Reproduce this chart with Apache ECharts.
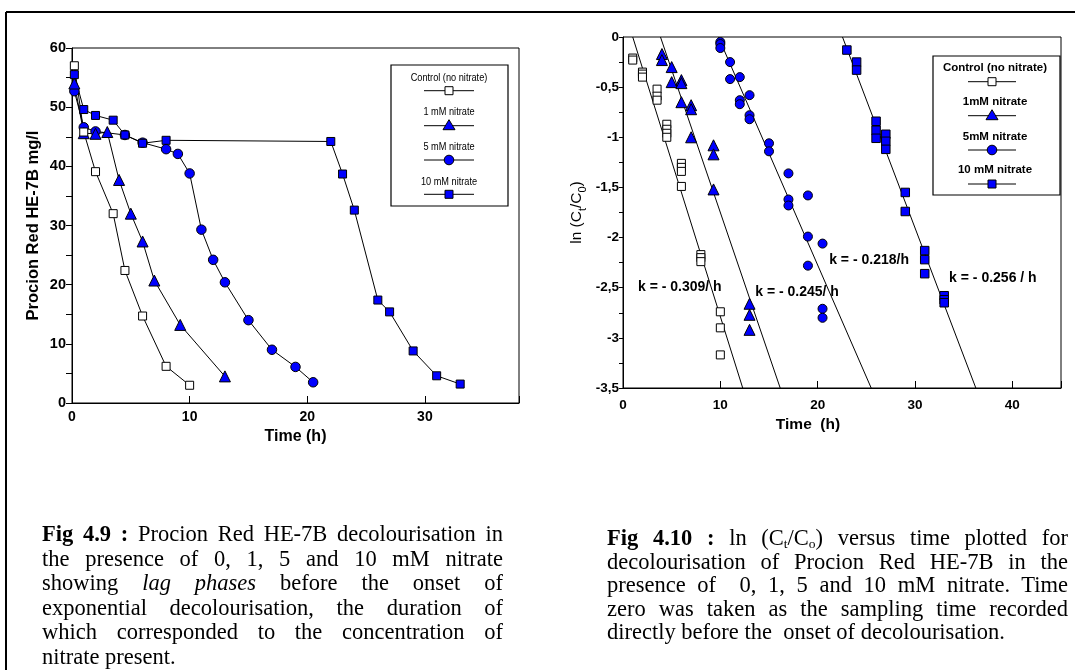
<!DOCTYPE html>
<html><head><meta charset="utf-8">
<script src="https://cdn.jsdelivr.net/npm/echarts@6/dist/echarts.min.js"></script>
<style>
html,body{margin:0;padding:0;background:#fff;}
#wrap{position:relative;width:1075px;height:670px;overflow:hidden;background:#fff;}
#chart{position:absolute;left:0;top:0;width:1075px;height:670px;}
.cap{position:absolute;width:461px;font-family:'Liberation Serif','Times New Roman',serif;font-size:22.5px;color:#000;}
.cap div{text-align:justify;text-align-last:justify;white-space:nowrap;}
.cap div.last{text-align-last:left;}
.cap b{font-weight:bold;}
.cap sub{font-size:60%;vertical-align:-0.25em;line-height:0;}
</style></head>
<body><div id="wrap"><div id="chart"></div>
<div class="cap" id="capL" style="left:42px;top:522px;line-height:24.5px;">
<div><b>Fig 4.9 :</b> Procion Red HE-7B decolourisation in</div>
<div>the presence of 0, 1, 5 and 10 mM nitrate</div>
<div>showing <i>lag phases</i> before the onset of</div>
<div>exponential decolourisation, the duration of</div>
<div>which corresponded to the concentration of</div>
<div class="last">nitrate present.</div>
</div>
<div class="cap" id="capR" style="left:607px;top:526px;line-height:23.5px;">
<div><b>Fig 4.10 :</b> ln (C<sub>t</sub>/C<sub>o</sub>) versus time plotted for</div>
<div>decolourisation of Procion Red HE-7B in the</div>
<div>presence of&nbsp; 0, 1, 5 and 10 mM nitrate. Time</div>
<div>zero was taken as the sampling time recorded</div>
<div class="last">directly before the&nbsp; onset of decolourisation.</div>
</div>
</div>
<script>
// ---------- Fig 4.9 data (concentration, mg/l vs time, h) ----------
const timeCtrl = [0.2, 1, 2, 3.5, 4.5, 6, 8, 10];
const concCtrl = [57.0, 45.8, 39.1, 32.0, 22.4, 14.7, 6.2, 3.0];
const time1 = [0.2, 1, 2, 3, 4, 5, 6, 7, 9.2, 13];
const conc1 = [54.0, 45.6, 45.5, 45.8, 37.7, 32.0, 27.3, 20.7, 13.2, 4.5];
const time5 = [0.2, 1, 2, 4.5, 6, 8, 9, 10, 11, 12, 13, 15, 17, 19, 20.5];
const conc5 = [52.7, 46.6, 45.9, 45.3, 44.0, 42.9, 42.1, 38.8, 29.3, 24.2, 20.4, 14.0, 9.0, 6.1, 3.5];
const time10 = [0.2, 1, 2, 3.5, 4.5, 6, 8, 22, 23, 24, 26, 27, 29, 31, 33];
const conc10 = [55.5, 49.6, 48.6, 47.8, 45.3, 43.9, 44.4, 44.2, 38.7, 32.6, 17.4, 15.4, 8.8, 4.6, 3.2];

// ---------- Fig 4.10 data (ln(Ct/C0) vs time, h) ----------
const lnTimeCtrl = [1, 1, 2, 2, 2, 3.5, 3.5, 3.5, 4.5, 4.5, 4.5, 4.5, 6, 6, 6, 6, 8, 8, 8, 10, 10, 10];
const lnCtrl = [-0.21, -0.23, -0.35, -0.37, -0.40, -0.52, -0.59, -0.63, -0.87, -0.92, -0.96, -1.0, -1.26, -1.30, -1.34, -1.49, -2.17, -2.20, -2.24, -2.74, -2.90, -3.17];
const lnTime1 = [4, 4, 5, 5, 6, 6, 6, 7, 7, 7, 9.3, 9.3, 9.3, 13, 13, 13];
const ln1 = [-0.17, -0.23, -0.30, -0.45, -0.43, -0.46, -0.65, -0.68, -0.72, -1.0, -1.08, -1.17, -1.52, -2.66, -2.77, -2.92];
const lnTime5 = [10, 10, 10, 11, 11, 12, 12, 12, 13, 13, 13, 15, 15, 17, 17, 17, 19, 19, 19, 20.5, 20.5, 20.5];
const ln5 = [-0.05, -0.07, -0.11, -0.25, -0.42, -0.40, -0.63, -0.67, -0.58, -0.78, -0.82, -1.06, -1.14, -1.36, -1.62, -1.68, -1.58, -1.99, -2.28, -2.06, -2.71, -2.80];
const lnTime10 = [23, 24, 24, 26, 26, 26, 27, 27, 27, 29, 29, 31, 31, 31, 33, 33, 33];
const ln10 = [-0.13, -0.25, -0.33, -0.84, -0.93, -1.01, -0.97, -1.04, -1.12, -1.55, -1.74, -2.13, -2.22, -2.36, -2.58, -2.62, -2.65];

// fitted regression lines: start/end time and ln value
const fitCtrlX = [1.0, 12.3];   const fitCtrlY = [0, -3.5];
const fit1X = [3.85, 16.15];    const fit1Y = [0, -3.5];
const fit5X = [9.8, 25.5];      const fit5Y = [0, -3.5];
const fit10X = [22.55, 36.25];  const fit10Y = [0, -3.5];

// rate constant annotations
const annotText = ['k = - 0.309/ h', 'k = - 0.245/ h', 'k = - 0.218/h', 'k = - 0.256 / h'];
const annotX = [1.44, 13.48, 21.08, 33.4];
const annotY = [-2.49, -2.54, -2.23, -2.40];

const seriesNames = ['Control (no nitrate)', '1 mM nitrate', '5 mM nitrate', '10 mM nitrate'];
const seriesNamesR = ['Control (no nitrate)', '1mM nitrate', '5mM nitrate', '10 mM nitrate'];

const zip = (xs, ys) => xs.map((x, i) => [x, ys[i]]);
const BLUE = '#0000ff';
const SANS = "'Liberation Sans', Arial, Helvetica, sans-serif";

const symStyle = (fill) => ({ color: fill, borderColor: '#000', borderWidth: 1, opacity: 1 });

function lineSeries(name, data, symbol, size, fill) {
  return {
    type: 'line', name, xAxisIndex: 0, yAxisIndex: 0, data,
    symbol, symbolSize: size, showAllSymbol: true,
    lineStyle: { color: '#000', width: 1 },
    itemStyle: symStyle(fill), animation: false, z: 3
  };
}
function scatterSeries(name, data, symbol, size, fill) {
  return {
    type: 'scatter', name, xAxisIndex: 1, yAxisIndex: 1, data,
    symbol, symbolSize: size, itemStyle: symStyle(fill), animation: false, z: 3
  };
}
function fitSeries(xs, ys) {
  return {
    type: 'line', xAxisIndex: 1, yAxisIndex: 1, data: zip(xs, ys), symbol: 'none',
    lineStyle: { color: '#000', width: 1 }, silent: true, animation: false, z: 2
  };
}

// legend graphics builder
function legendGraphics(box, cx, textYs, lineYs, names, font, sx, lx1, lx2) {
  const els = [{
    type: 'rect', shape: box, style: { fill: '#fff', stroke: '#000', lineWidth: 1.2 }, z: 10
  }];
  const kinds = ['rectOpen', 'tri', 'circle', 'rect'];
  names.forEach((n, i) => {
    els.push({ type: 'text', x: cx, y: textYs[i], scaleX: sx, z: 11,
      style: { text: n, font, fill: '#000', align: 'center', verticalAlign: 'middle', textAlign: 'center', textVerticalAlign: 'middle' } });
    els.push({ type: 'line', z: 11, shape: { x1: lx1, y1: lineYs[i], x2: lx2, y2: lineYs[i] }, style: { stroke: '#000', lineWidth: 1 } });
    const mx = (lx1 + lx2) / 2, my = lineYs[i];
    const k = kinds[i];
    if (k === 'rectOpen' || k === 'rect') {
      els.push({ type: 'rect', z: 12, shape: { x: mx - 4, y: my - 4, width: 8, height: 8 },
        style: { fill: k === 'rect' ? BLUE : '#fff', stroke: '#000', lineWidth: 1 } });
    } else if (k === 'tri') {
      els.push({ type: 'polygon', z: 12, shape: { points: [[mx, my - 6], [mx + 6, my + 4], [mx - 6, my + 4]] },
        style: { fill: BLUE, stroke: '#000', lineWidth: 1 } });
    } else {
      els.push({ type: 'circle', z: 12, shape: { cx: mx, cy: my, r: 4.8 },
        style: { fill: BLUE, stroke: '#000', lineWidth: 1 } });
    }
  });
  return els;
}

const chart = echarts.init(document.getElementById('chart'), null, { renderer: 'canvas' });

const option = {
  animation: false,
  backgroundColor: '#fff',
  grid: [
    { left: 72, top: 48, width: 447, height: 355, show: true, borderColor: '#000', borderWidth: 1, backgroundColor: 'transparent' },
    { left: 623, top: 37, width: 438, height: 351, show: true, borderColor: '#000', borderWidth: 1, backgroundColor: 'transparent' }
  ],
  xAxis: [
    {
      type: 'value', gridIndex: 0, min: 0, max: 38, interval: 10,
      name: 'Time (h)', nameLocation: 'middle', nameGap: 25,
      nameTextStyle: { fontFamily: SANS, fontWeight: 'bold', fontSize: 16, color: '#000' },
      axisLine: { show: true, onZero: false, lineStyle: { color: '#000', width: 1 } },
      axisTick: { show: true, inside: true, length: 7, lineStyle: { color: '#000' } },
      axisLabel: { color: '#000', fontFamily: SANS, fontWeight: 'bold', fontSize: 14, margin: 7,
        formatter: v => (v % 10 === 0 ? String(v) : '') },
      splitLine: { show: false }
    },
    {
      type: 'value', gridIndex: 1, min: 0, max: 45, interval: 10,
      name: 'Time  (h)', nameLocation: 'middle', nameGap: 27,
      nameTextStyle: { fontFamily: SANS, fontWeight: 'bold', fontSize: 15.5, color: '#000', padding: [0, 68, 0, 0] },
      axisLine: { show: true, onZero: false, lineStyle: { color: '#000', width: 1 } },
      axisTick: { show: true, inside: true, length: 7, lineStyle: { color: '#000' } },
      axisLabel: { color: '#000', fontFamily: SANS, fontWeight: 'bold', fontSize: 13.5, margin: 10,
        formatter: v => (v % 10 === 0 ? String(v) : '') },
      splitLine: { show: false }
    }
  ],
  yAxis: [
    {
      type: 'value', gridIndex: 0, min: 0, max: 60, interval: 10,
      name: 'Procion Red HE-7B mg/l', nameLocation: 'middle', nameGap: 30, nameRotate: 90,
      nameTextStyle: { fontFamily: SANS, fontWeight: 'bold', fontSize: 16.5, color: '#000' },
      axisLine: { show: true, onZero: false, lineStyle: { color: '#000', width: 1 } },
      axisTick: { show: true, inside: false, length: 6, lineStyle: { color: '#000' } },
      minorTick: { show: true, splitNumber: 2, length: 6, lineStyle: { color: '#000' } },
      axisLabel: { color: '#000', fontFamily: SANS, fontWeight: 'bold', fontSize: 14.5, margin: 6 },
      splitLine: { show: false }
    },
    {
      type: 'value', gridIndex: 1, min: -3.5, max: 0, interval: 0.5,
      name: '{a|ln (C}{s|t}{a|/C}{s|0}{a|)}', nameLocation: 'middle', nameGap: 35, nameRotate: 90,
      nameTextStyle: {
        color: '#000',
        rich: {
          a: { fontFamily: SANS, fontSize: 15.5, color: '#000', lineHeight: 22, verticalAlign: 'middle' },
          s: { fontFamily: SANS, fontSize: 11, color: '#000', lineHeight: 11, verticalAlign: 'bottom' }
        }
      },
      axisLine: { show: true, onZero: false, lineStyle: { color: '#000', width: 1 } },
      axisTick: { show: true, inside: false, length: 4, lineStyle: { color: '#000' } },
      minorTick: { show: true, splitNumber: 2, length: 4, lineStyle: { color: '#000' } },
      axisLabel: { color: '#000', fontFamily: SANS, fontWeight: 'bold', fontSize: 13.5, margin: 4,
        formatter: v => (v === 0 ? '0' : String(v).replace('.', ',')) },
      splitLine: { show: false }
    }
  ],
  series: [
    lineSeries(seriesNames[2], zip(time5, conc5), 'circle', 9.5, BLUE),
    lineSeries(seriesNames[1], zip(time1, conc1), 'triangle', 11, BLUE),
    lineSeries(seriesNames[3], zip(time10, conc10), 'rect', 8, BLUE),
    lineSeries(seriesNames[0], zip(timeCtrl, concCtrl), 'rect', 8, '#fff'),

    fitSeries(fitCtrlX, fitCtrlY),
    fitSeries(fit1X, fit1Y),
    fitSeries(fit5X, fit5Y),
    fitSeries(fit10X, fit10Y),
    scatterSeries(seriesNamesR[0], zip(lnTimeCtrl, lnCtrl), 'rect', 8, '#fff'),
    scatterSeries(seriesNamesR[1], zip(lnTime1, ln1), 'triangle', 11, BLUE),
    scatterSeries(seriesNamesR[2], zip(lnTime5, ln5), 'circle', 9, BLUE),
    scatterSeries(seriesNamesR[3], zip(lnTime10, ln10), 'rect', 8.5, BLUE),
    {
      type: 'scatter', xAxisIndex: 1, yAxisIndex: 1, symbol: 'circle', symbolSize: 2,
      itemStyle: { color: 'rgba(255,255,255,0)', borderWidth: 0 }, silent: true, z: 5, animation: false,
      data: annotText.map((t, i) => ({ name: t, value: [annotX[i], annotY[i]] })),
      label: { show: true, position: 'right', distance: 0, formatter: p => p.name, opacity: 1,
        color: '#000', textBorderWidth: 0, fontFamily: SANS, fontWeight: 'bold', fontSize: 14 },
      labelLayout: { hideOverlap: false }
    }
  ],
  graphic: {
    elements: [
      // figure frame (top + left rules)
      { type: 'line', shape: { x1: 6, y1: 12, x2: 1075, y2: 12 }, style: { stroke: '#000', lineWidth: 2 }, z: 20 },
      { type: 'line', shape: { x1: 6, y1: 12, x2: 6, y2: 670 }, style: { stroke: '#000', lineWidth: 2 }, z: 20 },
      ...legendGraphics({ x: 391, y: 65, width: 117, height: 141 }, 449,
        [77.7, 111.7, 146.7, 181.7], [90.7, 125.7, 160, 194.3], seriesNames,
        "11.5px " + SANS, 0.8, 424, 474),
      ...legendGraphics({ x: 933, y: 56, width: 127, height: 139 }, 995,
        [68.3, 101.7, 136.7, 170], [81.7, 115.7, 150, 184], seriesNamesR,
        "bold 11.5px " + SANS, 1, 968, 1016)
    ]
  }
};
chart.setOption(option);
</script>
</body></html>
